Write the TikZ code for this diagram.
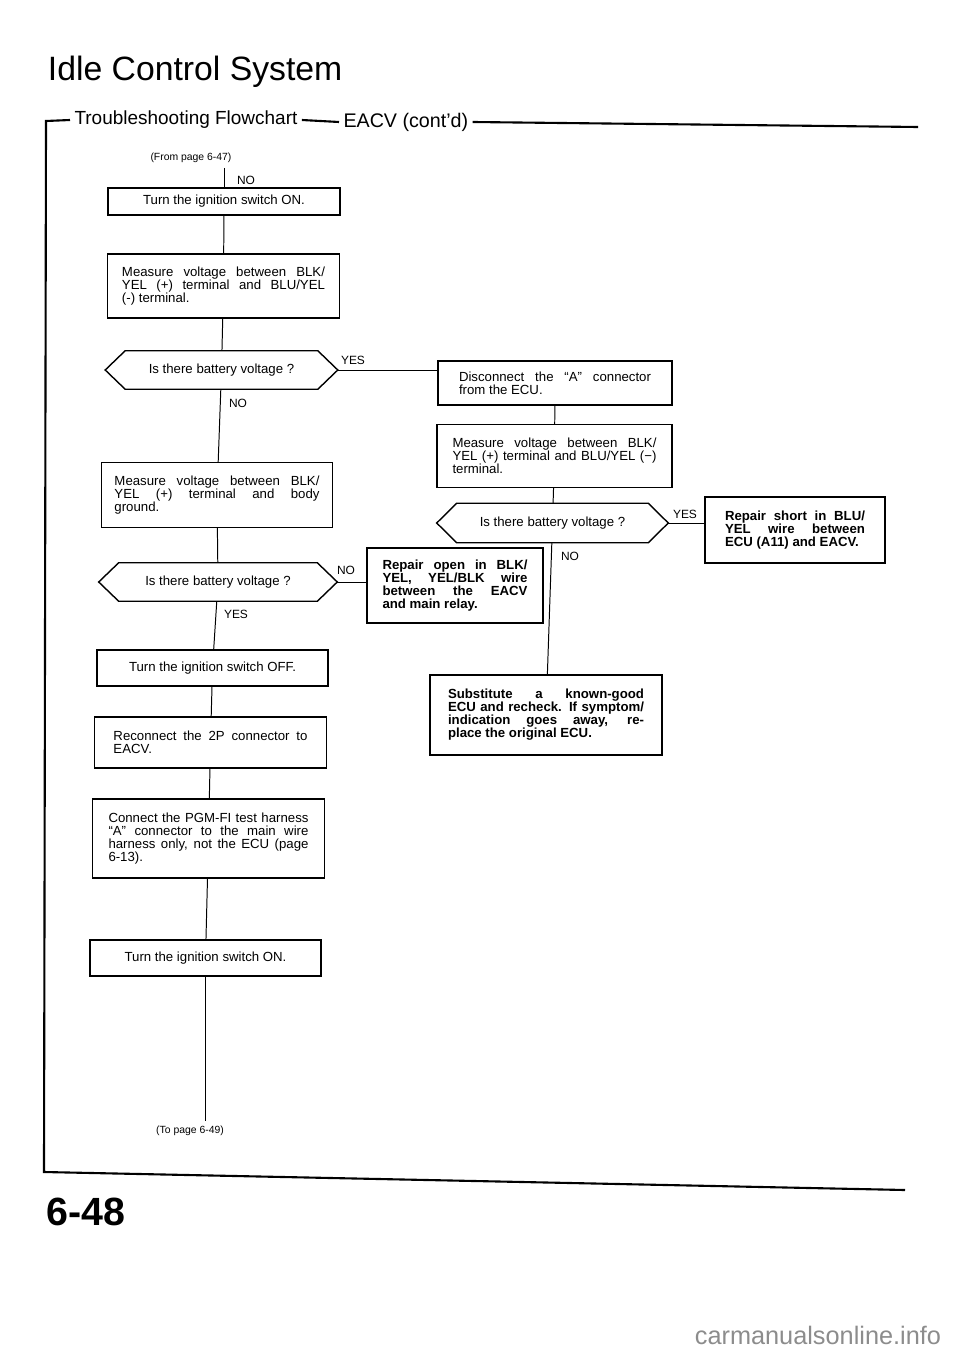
\documentclass[tikz,border=0pt]{standalone}
\usepackage{fontspec}
\setmainfont{Liberation Sans}
\usetikzlibrary{positioning}

\begin{document}
\begin{tikzpicture}[x=0.25mm,y=-0.25mm]
\tikzset{box/.style={draw,line width=1pt,inner sep=0pt,minimum width=58mm,font=\fontsize{9.4}{9.2}\selectfont},
  just/.style={box,align=justify},
  fix/.style={just,font=\fontsize{9.4}{9.2}\selectfont\bfseries},
  ask/.style={inner sep=0pt,minimum width=58mm,minimum height=9.5mm,font=\fontsize{9.4}{9.2}\selectfont},
  tag/.style={font=\fontsize{8.5}{8.5}\selectfont,inner sep=1pt},
  outline/.style={line width=1pt},
  wire/.style={line width=0.7pt},
  rule/.style={line width=1.5pt}}
\useasboundingbox (0,0) rectangle (960,1357);

\node[anchor=west,font=\fontsize{24}{24}\selectfont] (title) at (43,72) {Idle Control System};
\node[anchor=west,font=\fontsize{13.5}{13.5}\selectfont,inner xsep=3pt] (sub) at (70,120) {Troubleshooting Flowchart};
\node[anchor=west,font=\fontsize{14}{14}\selectfont,inner xsep=3pt] (eacv) at (339,122) {EACV (cont’d)};
\draw[rule] (sub.west) -- (46,121) -- (44,1172) -- (905,1190);
\draw[rule] (sub.east) -- (eacv.west); \draw[rule] (eacv.east) -- (918,127);

\node[font=\fontsize{7.4}{7.4}\selectfont] (from) at (191,158) {(From page 6-47)};
\node[box,minimum height=6.75mm] (t1) at (224,201.5) {Turn the ignition switch ON.};
\node[just,text width=50.75mm,minimum height=16mm] (t2) at (223.5,286) {Measure voltage between BLK/\linebreak YEL (+) terminal and BLU/YEL\linebreak (-) terminal.};
\node[ask] (q1) at (221.5,370) {Is there battery voltage ?};
\node[just,text width=51.25mm,minimum width=57.75mm,minimum height=16.25mm] (t3) at (217,495) {Measure voltage between BLK/\linebreak YEL (+) terminal and body\linebreak ground.};
\node[ask,minimum width=59.5mm] (q2) at (218,582) {Is there battery voltage ?};
\node[fix,text width=36.25mm,minimum width=44mm,minimum height=18.75mm] (rep) at (455,585.5) {Repair open in BLK/\linebreak YEL, YEL/BLK wire\linebreak between the EACV\linebreak and main relay.};
\node[box,minimum width=57.75mm,minimum height=9mm] (t5) at (212.5,668) {Turn the ignition switch OFF.};
\node[just,text width=48.5mm,minimum height=12.75mm] (t6) at (210.5,742.5) {Reconnect the 2P connector to\linebreak EACV.};
\node[just,text width=50mm,minimum height=19.75mm] (t7) at (208.5,838.5) {Connect the PGM-FI test harness\linebreak “A” connector to the main wire\linebreak harness only, not the ECU (page\linebreak 6-13).};
\node[box,minimum width=57.75mm,minimum height=9mm] (t8) at (205.5,958) {Turn the ignition switch ON.};
\node[font=\fontsize{7.4}{7.4}\selectfont] (to) at (190,1131) {(To page 6-49)};

\node[just,text width=48mm,minimum width=58.5mm,minimum height=11mm] (r1) at (555,383) {Disconnect the “A” connector\linebreak from the ECU.};
\node[just,text width=51mm,minimum width=58.75mm,minimum height=15.75mm] (r2) at (554.5,456) {Measure voltage between BLK/\linebreak YEL (+) terminal and BLU/YEL (−)\linebreak terminal.};
\node[ask,minimum width=57.75mm,minimum height=9.75mm] (q3) at (552.5,523) {Is there battery voltage ?};
\node[fix,text width=35mm,minimum width=45mm,minimum height=16.5mm] (r3) at (795,530) {Repair short in BLU/\linebreak YEL wire between\linebreak ECU (A11) and EACV.};
\node[fix,text width=49mm,minimum height=20mm] (r4) at (546,715) {Substitute a known-good\linebreak ECU and recheck. If symptom/\linebreak indication goes away, re-\linebreak place the original ECU.};

\foreach \q in {q1,q2,q3} \draw[outline] (\q.west) -- ([xshift=5mm]\q.north west) -- ([xshift=-5mm]\q.north east) -- (\q.east) -- ([xshift=-5mm]\q.south east) -- ([xshift=5mm]\q.south west) -- cycle;

\draw[wire] (from.south -| t1.north) -- (t1.north); \draw[wire] (t1) -- (t2); \draw[wire] (t2) -- (q1); \draw[wire] (q1) -- (t3); \draw[wire] (t3) -- (q2);
\draw[wire] (q2) -- (t5); \draw[wire] (t5) -- (t6); \draw[wire] (t6) -- (t7); \draw[wire] (t7) -- (t8); \draw[wire] (t8.south) -- (t8.south |- to.north);
\draw[wire] (q1.east) -- (q1.east -| r1.west); \draw[wire] (r1) -- (r2); \draw[wire] (r2) -- (q3); \draw[wire] (q3) -- (r4);
\draw[wire] (q3.east) -- (q3.east -| r3.west); \draw[wire] (q2.east) -- (q2.east -| rep.west);

\node[tag] (no0) at (246,180) {NO};
\node[tag] (yes1) at (353,360) {YES};
\node[tag] (no1) at (238,403) {NO};
\node[tag] (no2) at (346,570) {NO};
\node[tag] (yes2) at (236,614) {YES};
\node[tag] (yes3) at (685,514) {YES};
\node[tag] (no3) at (570,556) {NO};

\node[anchor=west,font=\fontsize{28}{28}\selectfont\bfseries] (page) at (42,1212) {6-48};
\node[anchor=east,text=black!45,font=\fontsize{18}{18}\selectfont] (mark) at (946,1335) {carmanualsonline.info};
\end{tikzpicture}
\end{document}
